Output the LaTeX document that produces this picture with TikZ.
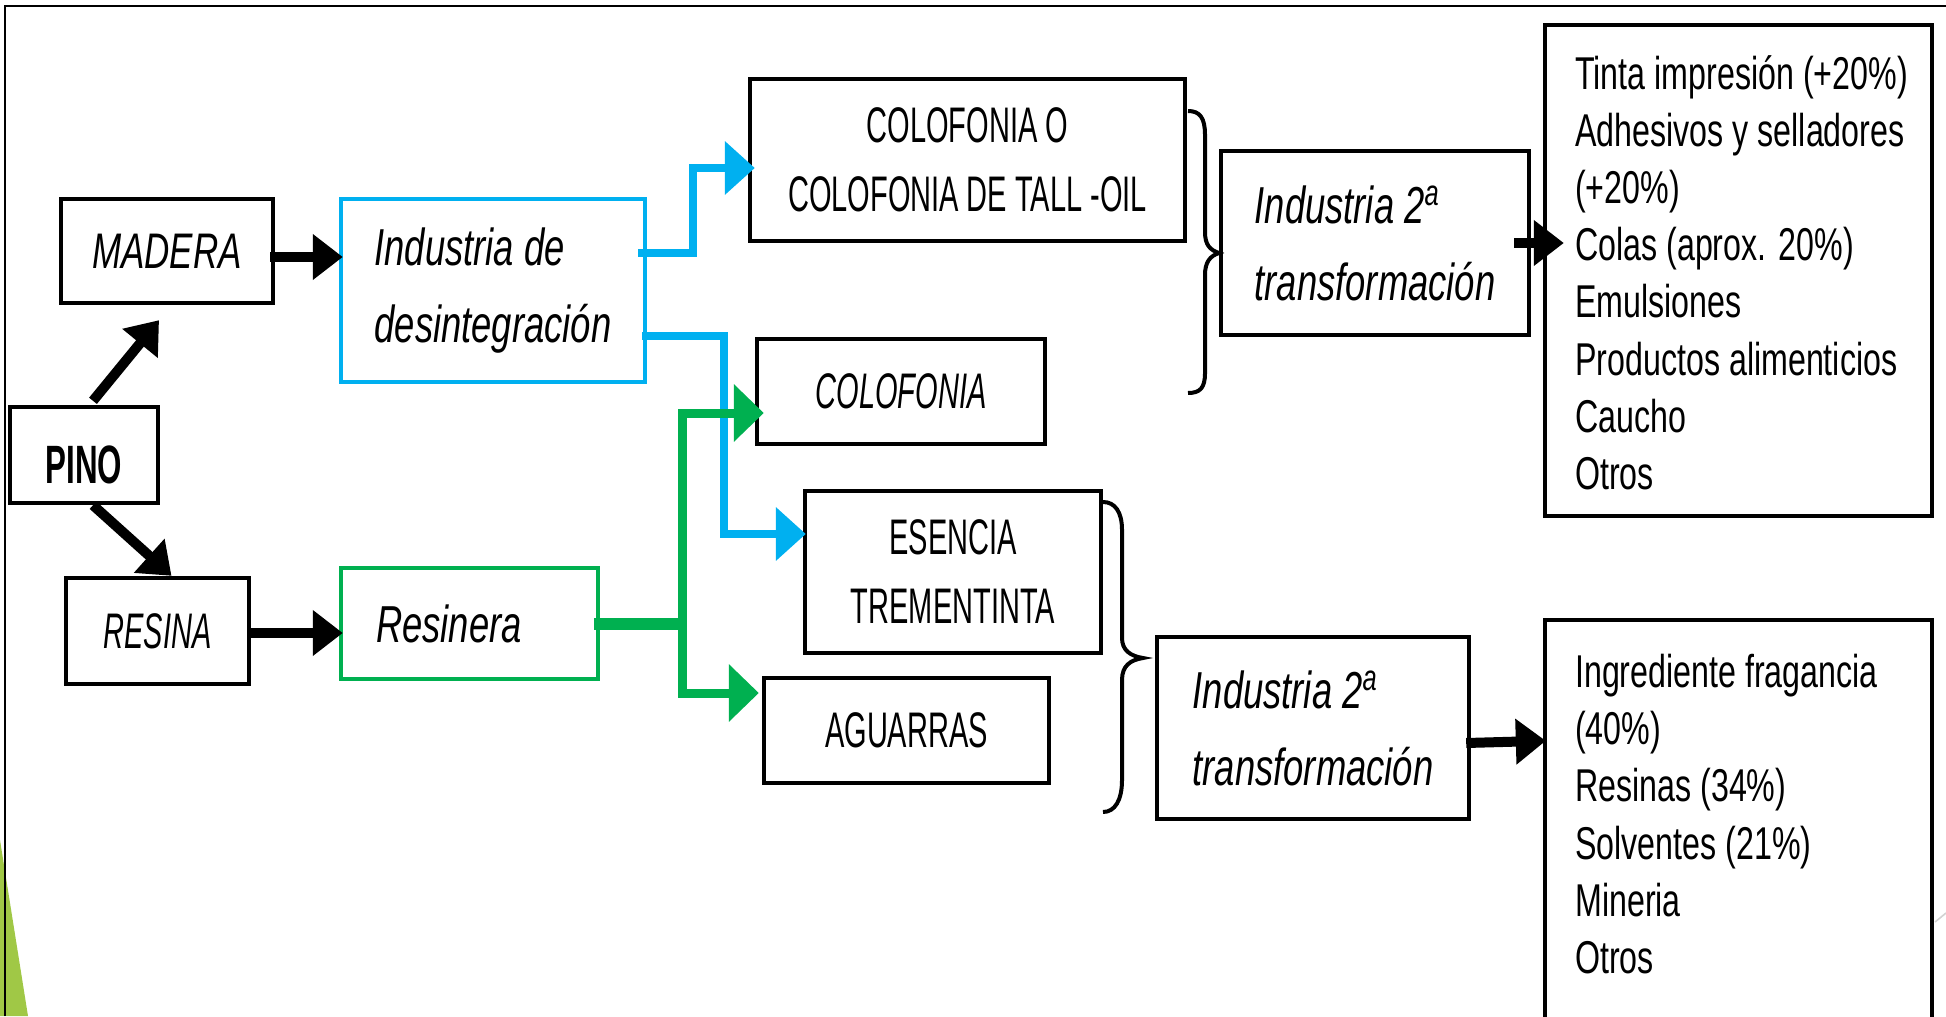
\documentclass[tikz,border=0pt]{standalone}
\usepackage{fontspec}
\setmainfont{Liberation Sans}[FakeStretch=0.7]
\newfontfamily\capsfont{Liberation Sans}[FakeStretch=0.58]
\usetikzlibrary{arrows.meta}
\definecolor{cyanline}{RGB}{0,176,240}
\definecolor{greenline}{RGB}{0,176,80}
\definecolor{leafgreen}{RGB}{160,200,70}

\tikzset{
  box/.style={draw, line width=2.2pt, rectangle, inner sep=0pt, align=center},
  bluebox/.style={box, draw=cyanline},
  greenbox/.style={box, draw=greenline},
  lbl/.style={font=\fontsize{26}{38.5}\selectfont\itshape},
  etiqueta/.style={font=\fontsize{25}{30}\selectfont\itshape},
  caps/.style={font=\capsfont\fontsize{25}{34.5}\selectfont},
  usos/.style={font=\fontsize{23}{28.6}\selectfont, align=left, inner sep=0pt, anchor=north west},
  flecha/.style={line width=5pt, -{Triangle[length=15pt,width=22pt]}},
  flechaazul/.style={draw=cyanline, line width=4pt, -{Triangle[length=15pt,width=26pt]}},
  flechaverde/.style={draw=greenline, line width=4.5pt, -{Triangle[length=15pt,width=28pt]}},
  llave/.style={line width=2pt}
}

\begin{document}
\begin{tikzpicture}[x=0.5pt, y=-0.5pt]
\useasboundingbox (0,0) rectangle (1946,1016);
\clip (0,0) rectangle (1946,1016);

\fill[leafgreen] (0,840) -- (28,1016) -- (0,1016) -- cycle;
\draw[line width=1pt] (5,1016) |- (1946,6);
\draw[gray!35, line width=0.8pt] (1935,922) -- (1946,913);

\node [box, font=\capsfont\fontsize{27}{30}\selectfont\bfseries, text height=28pt,
text depth=0pt, minimum width=74pt, minimum height=48pt] (pino) at (84,455) {PINO};
\node [box, etiqueta, minimum width=106pt, minimum height=52pt] (madera) at (167,251) {MADERA};
\node [box, caps, minimum width=91.5pt, minimum height=53pt] (resina) at (157.5,631) {\itshape RESINA};

\node [bluebox, lbl, align=left, minimum width=152pt, minimum
height=91.5pt] (desint) at (493,290.5) {Industria de\\desintegración};
\node [greenbox, lbl, align=left, text width=93.5pt, inner xsep=17.5pt, minimum
height=55.5pt] (resinera) at (469.5,623.5) {Resinera};

\node [box, caps, minimum width=217.5pt, minimum height=81pt] (talloil) at (967.5,160)
{COLOFONIA O\\COLOFONIA DE TALL -OIL};
\node [box, caps, minimum width=144pt, minimum height=52.5pt] (colofonia) at (901,391.5)
{\itshape COLOFONIA};
\node [box, caps, minimum width=148pt, minimum height=81pt] (esencia) at (953,572)
{ESENCIA\\TREMENTINTA};
\node [box, caps, minimum width=142.5pt, minimum height=52.5pt] (aguarras) at (906.5,730.5)
{AGUARRAS};

\node [box, lbl, align=left, minimum width=154pt, minimum height=92pt] (ind2a) at (1375,243)
{Industria 2\textsuperscript{a}\\transformación};
\node [box, lbl, align=left, minimum width=156pt, minimum height=91pt] (ind2b) at (1313,728)
{Industria 2\textsuperscript{a}\\transformación};

\node [box, minimum width=193.5pt, minimum height=245.5pt] (usos1) at (1738.5,270.5) {};
\node [usos] (usos1txt) at ([shift={(32,32)}]usos1.north west) {Tinta impresión (+20\%)\\
Adhesivos y selladores\\(+20\%)\\Colas (aprox. 20\%)\\Emulsiones\\Productos alimenticios\\
Caucho\\Otros};
\node [box, minimum width=193.5pt, minimum height=230pt] (usos2) at (1738.5,850) {};
\node [usos] (usos2txt) at ([shift={(32,36)}]usos2.north west) {Ingrediente fragancia\\
(40\%)\\Resinas (34\%)\\Solventes (21\%)\\Mineria\\Otros};

\draw [flecha] ([shift={(9,-4)}]pino.north) -- ([shift={(-8,15)}]madera.south);
\draw [flecha] ([shift={(9,0)}]pino.south) -- ([shift={(14,0)}]resina.north);
\draw [flecha] ([shift={(-5,6)}]madera.east) -- ([shift={(4,-33.5)}]desint.west);
\draw [flecha] ([shift={(-4,2)}]resina.east) -- ([shift={(4,9.5)}]resinera.west);

\draw [flechaazul] ([shift={(-9,-37.5)}]desint.east) -- ++(55,0) |- ([shift={(7,8)}]talloil.west);
\draw [flechaazul] ([shift={(-5,45)}]desint.east) -- ++(82,0) |- ([shift={(3,-38)}]esencia.west);

\coordinate (split) at ([shift={(82,0)}]resinera.east);
\draw [draw=greenline, line width=6pt] ([shift={(-6,0)}]resinera.east) -- (split);
\draw [flechaverde] (split) |- ([shift={(9,21.5)}]colofonia.west);
\draw [flechaverde] (split) |- ([shift={(-3,-37.5)}]aguarras.west);

\draw [llave] (1188,111) .. controls (1200,111) and (1205,118) .. (1205,135) -- (1205,232)
.. controls (1205,245) and (1210,250) .. (1219,253) .. controls (1210,256) and (1205,262) ..
(1205,275) -- (1205,373) .. controls (1205,388) and (1200,393) .. (1188,393);
\draw [llave] (1103,502) .. controls (1115,502) and (1122,512) .. (1122,530) -- (1122,638)
.. controls (1122,650) and (1130,656) .. (1143,658) .. controls (1130,660) and (1122,666) ..
(1122,680) -- (1122,780) .. controls (1122,800) and (1115,812) .. (1103,812);

\draw [flecha] ([shift={(-17,0)}]ind2a.east) -- ([shift={(21,-27.5)}]usos1.west);
\draw [flecha] ([shift={(-5,15)}]ind2b.east) -- ([shift={(3,123)}]usos2.north west);
\end{tikzpicture}
\end{document}
